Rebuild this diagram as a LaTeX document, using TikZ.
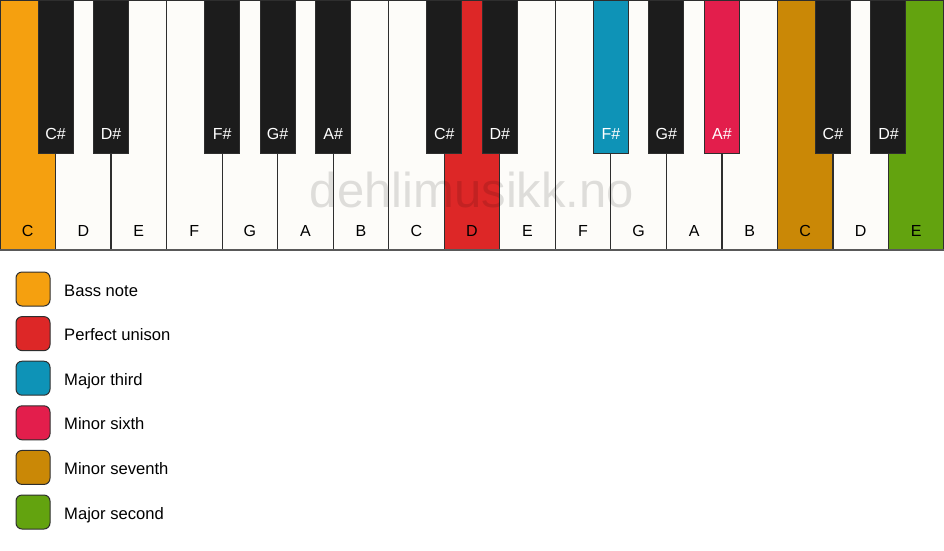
\documentclass[tikz,border=0pt]{standalone}
\usepackage{fontspec}
\setmainfont{Liberation Sans}
\definecolor{bass}{HTML}{F5A00F}
\definecolor{unison}{HTML}{DD2727}
\definecolor{mthird}{HTML}{0E93B7}
\definecolor{msixth}{HTML}{E31E4C}
\definecolor{mseventh}{HTML}{CA8806}
\definecolor{msecond}{HTML}{63A30F}
\definecolor{keywhite}{HTML}{FDFCF9}
\definecolor{keyblack}{HTML}{1C1C1C}
\definecolor{keyline}{HTML}{2E2E2E}
\begin{document}
\begin{tikzpicture}[x=1pt,y=-1pt,
  whitekey/.style={rectangle, draw=keyline, line width=1.2pt, minimum width=55.53pt, minimum height=250pt, inner sep=0pt, outer sep=0pt, anchor=north west},
  blackkey/.style={rectangle, draw=keyline, line width=1pt, minimum width=35pt, minimum height=153pt, inner sep=0pt, outer sep=0pt, anchor=north},
  wlabel/.style={anchor=base, inner sep=0pt, text=black, font=\fontsize{16}{16}\selectfont},
  blabel/.style={anchor=base, inner sep=0pt, text=white, font=\fontsize{16}{16}\selectfont},
  legbox/.style={rectangle, rounded corners=6pt, draw=keyline, line width=1pt, minimum width=34pt, minimum height=34pt, inner sep=0pt},
  legtext/.style={anchor=base west, inner sep=0pt, text=black, font=\fontsize{16.6}{16.6}\selectfont}]
\useasboundingbox (0,0) rectangle (944,550);
% white keys
\foreach \n/\c [count=\i from 0] in {C/bass,D/keywhite,E/keywhite,F/keywhite,G/keywhite,A/keywhite,B/keywhite,C/keywhite,D/unison,E/keywhite,F/keywhite,G/keywhite,A/keywhite,B/keywhite,C/mseventh,D/keywhite,E/msecond} {
  \node[whitekey, fill=\c] (w\i) at (\i*55.53,0) {};
  \node[wlabel] (lw\i) at (\i*55.53+27.76,236) {\n};
}
\draw[line width=2pt, draw=black!65] (w0.south west) -- (w16.south east);
% watermark
\node[anchor=base, inner sep=0pt, text=black, text opacity=0.12, font=\fontsize{49}{49}\selectfont] (wm) at (472,207) {dehlimusikk.no};
% black keys
\foreach \p/\n/\c [count=\j] in {1/C\#/keyblack,2/D\#/keyblack,4/F\#/keyblack,5/G\#/keyblack,6/A\#/keyblack,8/C\#/keyblack,9/D\#/keyblack,11/F\#/mthird,12/G\#/keyblack,13/A\#/msixth,15/C\#/keyblack,16/D\#/keyblack} {
  \node[blackkey, fill=\c] (b\j) at (\p*55.53,0) {};
  \node[blabel] (lb\j) at (\p*55.53,139) {\n};
}
% legend
\foreach \c/\t [count=\k from 0] in {bass/Bass note,unison/Perfect unison,mthird/Major third,msixth/Minor sixth,mseventh/Minor seventh,msecond/Major second} {
  \node[legbox, fill=\c] (g\k) at (33,289+\k*44.6) {};
  \node[legtext] (t\k) at (64,296+\k*44.6) {\t};
}
\end{tikzpicture}
\end{document}
